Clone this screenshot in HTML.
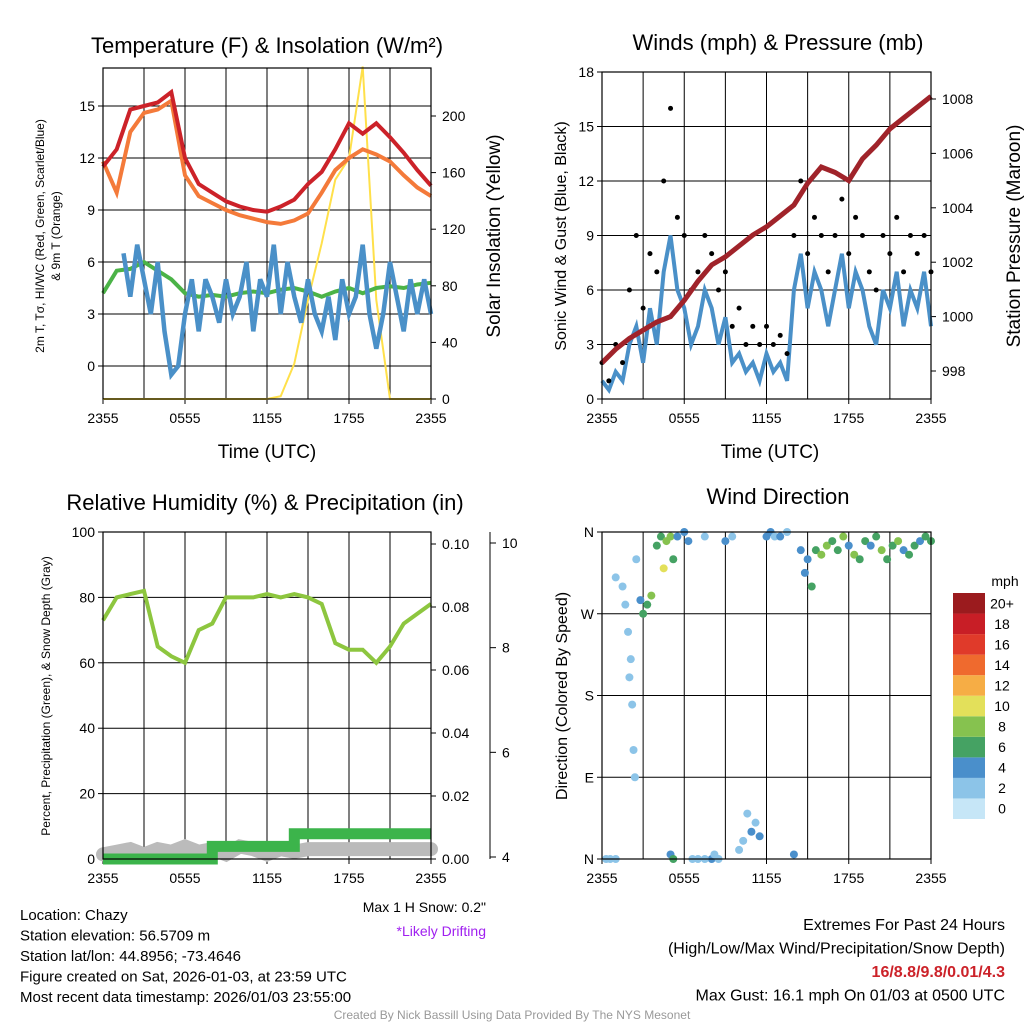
<!DOCTYPE html>
<html><head><meta charset="utf-8"><style>
body{margin:0;background:#fff}
svg text{font-family:"Liberation Sans",sans-serif;fill:#000}
</style></head><body>
<svg id="s" width="1024" height="1024" viewBox="0 0 1024 1024" xmlns="http://www.w3.org/2000/svg">
<g id="g"></g>
</svg>
<script>
// ---- data (hours since 2355 UTC) ----
const hrs = [0,1,2,3,4,5,6,7,8,9,10,11,12,13,14,15,16,17,18,19,20,21,22,23,24];
const tempRed = [11.5,12.5,14.8,15.0,15.2,15.8,12.0,10.5,10.0,9.5,9.2,9.0,8.9,9.2,9.6,10.5,11.2,12.5,14.0,13.4,14.0,13.2,12.3,11.3,10.4];
const tempOrange = [11.8,10.0,13.5,14.6,14.8,15.3,11.0,9.8,9.4,9.0,8.7,8.5,8.3,8.2,8.4,8.8,10.0,11.3,12.0,12.5,12.2,11.8,11.0,10.3,9.8];
const tempGreen = [4.2,5.5,5.6,6.0,5.5,5.0,4.2,4.0,4.1,4.0,4.2,4.3,4.2,4.4,4.5,4.3,4.0,4.3,4.5,4.2,4.5,4.6,4.5,4.7,4.8];
const solar = [0,0,0,0,0,0,0,0,0,0,0,0,0,2,25,70,110,155,170,235,70,0,0,0,0];
const halfHrs = [0,0.5,1,1.5,2,2.5,3,3.5,4,4.5,5,5.5,6,6.5,7,7.5,8,8.5,9,9.5,10,10.5,11,11.5,12,12.5,13,13.5,14,14.5,15,15.5,16,16.5,17,17.5,18,18.5,19,19.5,20,20.5,21,21.5,22,22.5,23,23.5,24];
const tempBlue = [null,null,null,6.5,4,7,5,3,6,2,-0.5,0,3,5,2,5,4,2.5,5,3,4,6,2,5,4,7,3,6,4,2.5,5,3,2,4,1.5,5,3,4,7,3,1,3,6,4,2,5,3,5,3];
const windSonic = [1,0.5,1.5,1,3,4,2,5,3,7,9,6,5,3,4,6,5,3,4.5,2,2.5,1.5,2,1,2.5,1.5,2,1,6,8,5,7,6,4,6,8,5,7,6,4,3,6,5,7,4,6,5,7,4];
const windGust = [2,1,3,2,6,9,5,8,7,12,16,10,9,6,7,9,8,6,7,4,5,3,4,3,4,3,3.5,2.5,9,12,8,10,9,7,9,11,8,10,9,7,6,9,8,10,7,9,8,9,7];
const pressure = [998.3,998.8,999.2,999.5,999.8,1000.0,1000.6,1001.3,1001.9,1002.2,1002.6,1003.0,1003.3,1003.7,1004.1,1004.9,1005.5,1005.3,1005.0,1005.8,1006.3,1006.9,1007.3,1007.7,1008.1];
const rh = [73,80,81,82,65,62,60,70,72,80,80,80,81,80,81,80,78,66,64,64,60,65,72,75,78];
const precip = [0,0,0,0,0,0,0,0,0.004,0.004,0.004,0.004,0.004,0.004,0.008,0.008,0.008,0.008,0.008,0.008,0.008,0.008,0.008,0.008,0.008];
const snowDepth = [4.05,4.1,4.15,4.05,4.15,4.1,4.2,4.1,4.15,4.05,4.2,4.15,4.05,4.15,4.1,4.15,4.15,4.15,4.15,4.15,4.15,4.15,4.15,4.15,4.15];
const dirHour = [0.3,0.6,1.0,1.5,1.7,1.9,2.0,2.1,2.2,2.3,2.4,2.5,2.8,3.0,3.3,3.6,4.0,4.3,4.5,4.7,5.0,5.2,5.5,6.0,6.3,6.6,7.0,7.5,8.0,8.5,9.0,9.5,10.0,10.3,10.6,10.9,11.2,11.5,12.0,12.3,12.6,13.0,13.5,14.0,14.5,14.8,15.0,15.3,15.6,16.0,16.4,16.8,17.2,17.6,18.0,18.4,18.8,19.2,19.6,20.0,20.4,20.8,21.2,21.6,22.0,22.4,22.8,23.2,23.6,24.0,5.0,5.2,7.5,8.2,1.0];
const dirDeg = [0,0,310,300,280,250,200,220,170,120,90,330,285,270,280,290,345,355,320,350,355,330,355,360,350,0,0,355,0,0,350,355,10,20,50,30,40,25,355,360,355,355,360,5,340,315,330,300,340,335,345,350,340,355,345,335,330,350,345,355,340,330,345,350,340,335,345,350,355,350,5,0,0,5,0];
const dirSpeed = [1,1,1,2,2,1,1,1,1,1,1,2,4,6,5,7,5,6,10,8,7,5,4,3,4,2,1,2,3,2,3,2,1,2,2,3,2,3,4,3,2,3,2,4,3,3,4,5,6,7,8,5,6,7,4,8,6,5,4,6,7,5,6,8,3,5,6,4,5,5,4,6,2,2,1];
const leftTicks1 = [0,3,6,9,12,15];
const rightTicks1 = [0,40,80,120,160,200];
const leftTicks2 = [0,3,6,9,12,15,18];
const rightTicks2 = [998,1000,1002,1004,1006,1008];
const rhTicks = [0,20,40,60,80,100];
const precipTicks = [0,0.02,0.04,0.06,0.08,0.10];
const snowTicks = [4,6,8,10];
const dirTicks = ["N","E","S","W","N"];
const timeLabels = ["2355","0555","1155","1755","2355"];
const cbLabels = ["0","2","4","6","8","10","12","14","16","18","20+"];
const cbColors = ["#c6e6f7","#8cc4e8","#4a8fcb","#45a263","#86c24f","#e3e05a","#f6ad45","#ef6a2e","#e03a2a","#c81e26","#9b1b1e"];

const NS="http://www.w3.org/2000/svg", G=document.getElementById('g');
function el(tag,attrs,parent,txt){const e=document.createElementNS(NS,tag);for(const k in attrs)e.setAttribute(k,attrs[k]);if(txt!==undefined)e.textContent=txt;(parent||G).appendChild(e);return e;}
function lin(d0,d1,r0,r1){return v=>r0+(v-d0)*(r1-r0)/(d1-d0);}
function path(xs,ys,sx,sy){let d="",pen=false;for(let i=0;i<xs.length;i++){if(ys[i]===null){pen=false;continue;}d+=(pen?"L":"M")+sx(xs[i]).toFixed(1)+","+sy(ys[i]).toFixed(1);pen=true;}return d;}
function panel(x0,y0,x1,y1,name){
  const p=el('g',{});
  for(let i=1;i<8;i++){const x=x0+(x1-x0)*i/8;el('line',{x1:x,y1:y0,x2:x,y2:y1,stroke:'#000','stroke-width':1},p);}
  const sx=lin(0,24,x0,x1);
  timeLabels.forEach((t,i)=>{const x=x0+(x1-x0)*i/4;el('text',{x:x,y:y1+24,'font-size':14,'text-anchor':'middle'},p,t);el('line',{x1:x,y1:y1,x2:x,y2:y1+5,stroke:'#000'},p);});
  return {p,sx};
}
function frame(x0,y0,x1,y1,p){el('rect',{x:x0,y:y0,width:x1-x0,height:y1-y0,fill:'none',stroke:'#000','stroke-width':1.2},p);}
function hgrid(ticks,sy,x0,x1,p,labels){ticks.forEach((t,i)=>{const y=sy(t);el('line',{x1:x0,y1:y,x2:x1,y2:y,stroke:'#000'},p);el('line',{x1:x0-5,y1:y,x2:x0,y2:y,stroke:'#000'},p);el('text',{x:x0-8,y:y+5,'font-size':14,'text-anchor':'end'},p,labels?labels[i]:t);});}
function rticks(ticks,sy,x,p,fmt,len){ticks.forEach(t=>{const y=sy(t);el('line',{x1:x,y1:y,x2:x+(len||5),y2:y,stroke:'#000'},p);el('text',{x:x+(len||5)+6,y:y+5,'font-size':14},p,fmt?fmt(t):t);});}

// ---- Panel 1: temperature ----
{const x0=103,y0=68,x1=431,y1=399;const {p,sx}=panel(x0,y0,x1,y1,'temperature-panel');
 const sy=lin(0,15,366,106),sr=lin(0,200,399,116);
 hgrid(leftTicks1,sy,x0,x1,p);rticks(rightTicks1,sr,x1,p);
 el('path',{d:path(hrs,solar,sx,sr),fill:'none',stroke:'#ffe04a','stroke-width':2,},p);
 el('path',{d:path(hrs,tempGreen,sx,sy),fill:'none',stroke:'#4bb347','stroke-width':4,},p);
 el('path',{d:path(halfHrs,tempBlue,sx,sy),fill:'none',stroke:'#4a90c8','stroke-width':4.5,},p);
 el('path',{d:path(hrs,tempOrange,sx,sy),fill:'none',stroke:'#f47a3a','stroke-width':4,},p);
 el('path',{d:path(hrs,tempRed,sx,sy),fill:'none',stroke:'#cc2229','stroke-width':4,},p);
 frame(x0,y0,x1,y1,p);
 el('text',{x:267,y:53,'font-size':22,'text-anchor':'middle',},p,'Temperature (F) & Insolation (W/m²)');
 el('text',{x:267,y:458,'font-size':19,'text-anchor':'middle'},p,'Time (UTC)');
 el('text',{x:500,y:236,'font-size':19,'text-anchor':'middle',transform:'rotate(-90 500 236)'},p,'Solar Insolation (Yellow)');
 el('text',{x:44,y:236,'font-size':12,'text-anchor':'middle',transform:'rotate(-90 44 236)'},p,'2m T, Tσ, HI/WC (Red, Green, Scarlet/Blue)');
 el('text',{x:60,y:236,'font-size':12,'text-anchor':'middle',transform:'rotate(-90 60 236)'},p,'& 9m T (Orange)');
}
// ---- Panel 2: winds ----
{const x0=602,y0=72,x1=931,y1=399;const {p,sx}=panel(x0,y0,x1,y1,'winds-panel');
 const sy=lin(0,18,399,72),sr=lin(998,1008,371,99);
 hgrid(leftTicks2,sy,x0,x1,p);rticks(rightTicks2,sr,x1,p);
 el('path',{d:path(halfHrs,windSonic,sx,sy),fill:'none',stroke:'#4a90c8','stroke-width':4,},p);
 halfHrs.forEach((h,i)=>{const c=el('circle',{cx:sx(h),cy:sy(windGust[i]),r:2.5,fill:'#000'},p);});
 el('path',{d:path(hrs,pressure,sx,sr),fill:'none',stroke:'#a0232a','stroke-width':5,},p);
 frame(x0,y0,x1,y1,p);
 el('text',{x:778,y:50,'font-size':22,'text-anchor':'middle'},p,'Winds (mph) & Pressure (mb)');
 el('text',{x:770,y:458,'font-size':19,'text-anchor':'middle'},p,'Time (UTC)');
 el('text',{x:566,y:236,'font-size':16,'text-anchor':'middle',transform:'rotate(-90 566 236)'},p,'Sonic Wind & Gust (Blue, Black)');
 el('text',{x:1020,y:236,'font-size':19,'text-anchor':'middle',transform:'rotate(-90 1020 236)'},p,'Station Pressure (Maroon)');
}
// ---- Panel 3: RH ----
{const x0=103,y0=532,x1=431,y1=859;const {p,sx}=panel(x0,y0,x1,y1,'humidity-panel');
 const sy=lin(0,100,859,532),sp=lin(0,0.10,859,544),ss=lin(4,10,857,543);
 hgrid(rhTicks,sy,x0,x1,p);rticks(precipTicks,sp,x1,p,t=>t.toFixed(2));
 el('line',{x1:490,y1:532,x2:490,y2:859,stroke:'#000'},p);rticks(snowTicks,ss,490,p,null,6);
 el('path',{d:path(hrs,snowDepth,sx,ss),fill:'none',stroke:'#bbbbbb','stroke-width':14,'stroke-linecap':'round',},p);
 let d="";hrs.forEach((h,i)=>{const y=sp(precip[i]).toFixed(1);d+=(i?"L"+sx(h).toFixed(1)+","+sp(precip[i-1]).toFixed(1)+"L":"M")+sx(h).toFixed(1)+","+y;});
 el('path',{d:d,fill:'none',stroke:'#3cb44b','stroke-width':11,},p);
 el('path',{d:path(hrs,rh,sx,sy),fill:'none',stroke:'#8dc63f','stroke-width':4,},p);
 frame(x0,y0,x1,y1,p);
 el('text',{x:265,y:510,'font-size':22,'text-anchor':'middle'},p,'Relative Humidity (%) & Precipitation (in)');
 el('text',{x:50,y:696,'font-size':12,'text-anchor':'middle',transform:'rotate(-90 50 696)'},p,'Percent, Precipitation (Green), & Snow Depth (Gray)');
 el('text',{x:486,y:912,'font-size':14,'text-anchor':'end'},p,'Max 1 H Snow: 0.2"');
 el('text',{x:486,y:936,'font-size':14,'text-anchor':'end',style:'fill:#a020f0'},p,'*Likely Drifting');
}
// ---- Panel 4: direction ----
{const x0=602,y0=532,x1=931,y1=859;const {p,sx}=panel(x0,y0,x1,y1,'wind-direction-panel');
 const sy=lin(0,360,859,532);
 hgrid([0,90,180,270,360],sy,x0,x1,p,dirTicks);
 dirHour.forEach((h,i)=>{const c=el('circle',{cx:sx(h),cy:sy(dirDeg[i]),r:4,fill:cbColors[Math.min(10,Math.round(dirSpeed[i]/2))]},p);});
 frame(x0,y0,x1,y1,p);
 el('text',{x:778,y:504,'font-size':22,'text-anchor':'middle'},p,'Wind Direction');
 el('text',{x:567,y:696,'font-size':16,'text-anchor':'middle',transform:'rotate(-90 567 696)'},p,'Direction (Colored By Speed)');
 const cb=el('g',{});
 const bh=226/11;
 cbColors.forEach((c,i)=>{const y=819-(i+1)*bh;el('rect',{x:953,y:y,width:32,height:bh,fill:c},cb);el('text',{x:1002,y:y+bh/2+5,'font-size':14,'text-anchor':'middle'},cb,cbLabels[i]);});
 el('text',{x:1005,y:586,'font-size':14,'text-anchor':'middle'},cb,'mph');
}
// ---- footer text ----
const info=["Location: Chazy","Station elevation: 56.5709 m","Station lat/lon: 44.8956; -73.4646","Figure created on Sat, 2026-01-03, at 23:59 UTC","Most recent data timestamp: 2026/01/03 23:55:00"];
info.forEach((t,i)=>{const e=el('text',{x:20,y:920+i*20.5,'font-size':15},G,t);});
const ext=[["Extremes For Past 24 Hours",'#000',''],["(High/Low/Max Wind/Precipitation/Snow Depth)",'#000',''],["16/8.8/9.8/0.01/4.3",'#cc2229','bold'],["Max Gust: 16.1 mph On 01/03 at 0500 UTC",'#000','']];
ext.forEach((t,i)=>{const e=el('text',{x:1005,y:930+i*23.5,'font-size':16,'text-anchor':'end','font-weight':t[2]||'normal',style:'fill:'+t[1]},G,t[0]);});
el('text',{x:512,y:1019,'font-size':12,'text-anchor':'middle',style:'fill:#999',},G,'Created By Nick Bassill Using Data Provided By The NYS Mesonet');
</script>
</body></html>
